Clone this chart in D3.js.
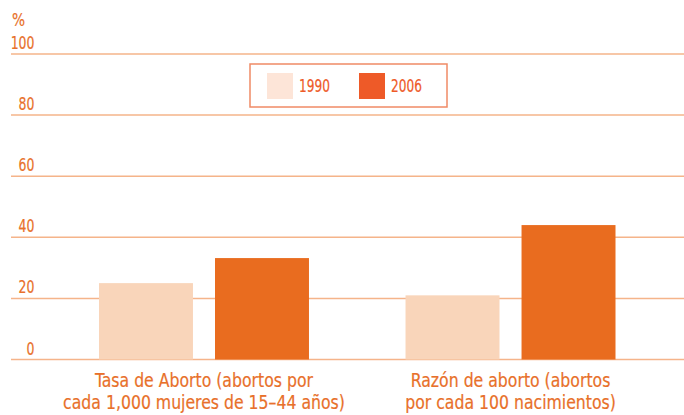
<!DOCTYPE html>
<html>
<head>
<meta charset="utf-8">
<script src="https://cdn.jsdelivr.net/npm/d3@7"></script>
<style>
  body { margin: 0; background: #fff; }
  text { font-family: "DejaVu Sans Condensed", "Liberation Sans Narrow", sans-serif; }
</style>
</head>
<body>
<script>
// chart data
var categories = ["Tasa de Aborto (abortos por|cada 1,000 mujeres de 15\u201344 a\u00f1os)",
                  "Raz\u00f3n de aborto (abortos|por cada 100 nacimientos)"];
var years = ["1990", "2006"];
var values1990 = [25, 21];
var values2006 = [33.2, 44];
var yTicks = [0, 20, 40, 60, 80, 100];

var width = 684, height = 415;
var textColor = "#e8702a";
var barColors = ["#f9d5ba", "#e96c1f"];
var swatchColors = ["#fde5d8", "#ee5a28"];

var svg = d3.select("body").append("svg")
    .attr("width", width)
    .attr("height", height);

var y = d3.scaleLinear().domain([0, 100]).range([359.5, 54]);

var x0 = d3.scaleBand()
    .domain(categories)
    .range([99, 615.5])
    .paddingInner(0.315)
    .paddingOuter(0);

var x1 = d3.scaleBand()
    .domain(years)
    .range([0, x0.bandwidth()])
    .paddingInner(0.19)
    .paddingOuter(0);

// narrow text helper (the original uses a condensed face)
function label(sel, x, yy, size, squeeze, anchor, color) {
  color = color || textColor;
  var g = sel.append("g").attr("transform", "translate(" + x + "," + yy + ") scale(" + squeeze + ",1)");
  return g.append("text")
    .attr("font-size", size)
    .attr("text-anchor", anchor || "start")
    .attr("fill", color)
    .attr("stroke", color)
    .attr("stroke-width", 0.2);
}

// gridlines
svg.selectAll("line.grid")
  .data(yTicks)
  .enter().append("line")
    .attr("class", "grid")
    .attr("x1", 11).attr("x2", width)
    .attr("y1", d => y(d)).attr("y2", d => y(d))
    .attr("stroke", "#f5b48a")
    .attr("stroke-width", 1.5);

yTicks.forEach(function(t) {
  label(svg, 34.5, y(t) - 5, 18.5, 0.75, "end").text(t);
});

label(svg, 12, 26, 18, 0.85).text("%");

// bars
var rows = categories.map((c, i) => ({cat: c, vals: [values1990[i], values2006[i]]}));

var groups = svg.selectAll("g.group")
  .data(rows)
  .enter().append("g")
    .attr("class", "group")
    .attr("transform", d => "translate(" + x0(d.cat) + ",0)");

groups.selectAll("rect")
  .data(d => d.vals.map((v, j) => ({year: years[j], v: v, j: j})))
  .enter().append("rect")
    .attr("x", d => x1(d.year))
    .attr("width", x1.bandwidth())
    .attr("y", d => y(d.v))
    .attr("height", d => y(0) - y(d.v))
    .attr("fill", d => barColors[d.j]);

// category labels
groups.each(function(d) {
  var g = d3.select(this);
  d.cat.split("|").forEach(function(line, i) {
    label(g, x0.bandwidth() / 2, 386.5 + i * 22.5, 19.5, 0.895, "middle").text(line);
  });
});

// legend
var legend = svg.append("g").attr("transform", "translate(250,64)");
legend.append("rect")
    .attr("width", 197).attr("height", 43)
    .attr("fill", "#fff")
    .attr("stroke", "#f08a66")
    .attr("stroke-width", 1.5);

var items = legend.selectAll("g.item")
  .data(years)
  .enter().append("g")
    .attr("class", "item")
    .attr("transform", (d, i) => "translate(" + (17 + i * 92) + ",9)");

items.append("rect")
    .attr("width", 26).attr("height", 26)
    .attr("fill", (d, i) => swatchColors[i]);

items.each(function(d) {
  label(d3.select(this), 32, 19, 18.5, 0.73, "start", "#ee5a28").text(d);
});
</script>
</body>
</html>
